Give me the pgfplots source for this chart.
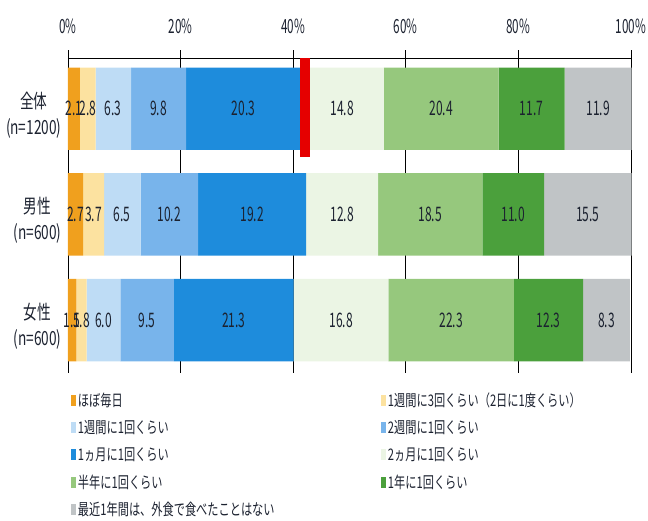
\documentclass[border=0pt]{standalone}
\usepackage{pgfplots}
\pgfplotsset{compat=1.18}
\usepackage{fontspec}
\setmainfont{Noto Sans CJK JP}[FakeStretch=0.7]
\newfontfamily\numfont{Noto Sans CJK JP}[FakeStretch=0.6]
\definecolor{c1}{HTML}{F0A01E}
\definecolor{c2}{HTML}{FCE2A0}
\definecolor{c3}{HTML}{BEDCF5}
\definecolor{c4}{HTML}{78B4EB}
\definecolor{c5}{HTML}{1E8CDC}
\definecolor{c6}{HTML}{EBF5E4}
\definecolor{c7}{HTML}{96C87D}
\definecolor{c8}{HTML}{4BA03C}
\definecolor{c9}{HTML}{C0C4C6}
\definecolor{txt}{HTML}{1C2230}
\begin{document}
\begin{tikzpicture}
\useasboundingbox (-68bp,-148bp) rectangle (580bp,373bp);
\begin{axis}[
  at={(0,0)}, anchor=south west,
  scale only axis, width=563.5bp, height=315bp,
  xbar stacked, bar width=0.78,
  xmin=0, xmax=100.1,
  ymin=-0.48, ymax=2.5, y dir=reverse,
  axis x line*=top, axis y line*=left,
  x axis line style={black, line width=0.8bp},
  y axis line style={draw=none},
  xtick={0,20,40,60,80,100},
  xticklabels={0\%,20\%,40\%,60\%,80\%,100\%},
  tick align=outside, major tick length=8bp,
  xtick style={black, line width=0.8bp},
  xmajorgrids, grid style={black, line width=0.8bp},
  xticklabel style={font=\numfont\fontsize{19.5bp}{22bp}\selectfont, text=txt, inner sep=0pt, text depth=0pt, yshift=16bp},
  ytick={0,1,2},
  yticklabels={{全体\\(n=1200)},{男性\\(n=600)},{女性\\(n=600)}},
  yticklabel style={align=center, font=\fontsize{19.5bp}{26bp}\selectfont, text=txt, xshift=5bp, yshift=-6bp},
  ytick style={draw=none},
  point meta=explicit symbolic,
  nodes near coords,
  every node near coord/.append style={font=\numfont\fontsize{20bp}{22bp}\selectfont, text=txt},
  legend columns=2,
  legend cell align=left,
  legend style={draw=none, fill=none, inner sep=0pt, outer sep=0pt,
    at={(0,0)}, anchor=north west, xshift=3bp, yshift=-18bp,
    font=\fontsize{16bp}{18bp}\selectfont, text=txt,
    row sep=8.5bp,
    /tikz/column 2/.style={text width=301bp}},
  legend image code/.code={\fill[#1, draw=none] (0bp,-5.5bp) rectangle (5bp,5.5bp);},
]
\addplot[fill=c1, draw=none] coordinates {(2.1,0) [2.1] (2.7,1) [2.7] (1.5,2) [1.5]};
\addplot[fill=c2, draw=none] coordinates {(2.8,0) [2.8] (3.7,1) [3.7] (1.8,2) [1.8]};
\addplot[fill=c3, draw=none] coordinates {(6.3,0) [6.3] (6.5,1) [6.5] (6.0,2) [6.0]};
\addplot[fill=c4, draw=none] coordinates {(9.8,0) [9.8] (10.2,1) [10.2] (9.5,2) [9.5]};
\addplot[fill=c5, draw=none] coordinates {(20.3,0) [20.3] (19.2,1) [19.2] (21.3,2) [21.3]};
\addplot[fill=c6, draw=none] coordinates {(14.8,0) [14.8] (12.8,1) [12.8] (16.8,2) [16.8]};
\addplot[fill=c7, draw=none] coordinates {(20.4,0) [20.4] (18.5,1) [18.5] (22.3,2) [22.3]};
\addplot[fill=c8, draw=none] coordinates {(11.7,0) [11.7] (11.0,1) [11.0] (12.3,2) [12.3]};
\addplot[fill=c9, draw=none] coordinates {(11.9,0) [11.9] (15.5,1) [15.5] (8.3,2) [8.3]};
\legend{ほぼ毎日,1週間に3回くらい（2日に1度くらい）,1週間に1回くらい,2週間に1回くらい,1ヵ月に1回くらい,2ヵ月に1回くらい,半年に1回くらい,1年に1回くらい,最近1年間は、外食で食べたことはない}
\coordinate (r1) at (axis cs:41.3,-0.48);
\coordinate (r2) at (axis cs:43.0,0.455);
\end{axis}
\fill[red!90!black] (r1) rectangle (r2);
\end{tikzpicture}
\end{document}
